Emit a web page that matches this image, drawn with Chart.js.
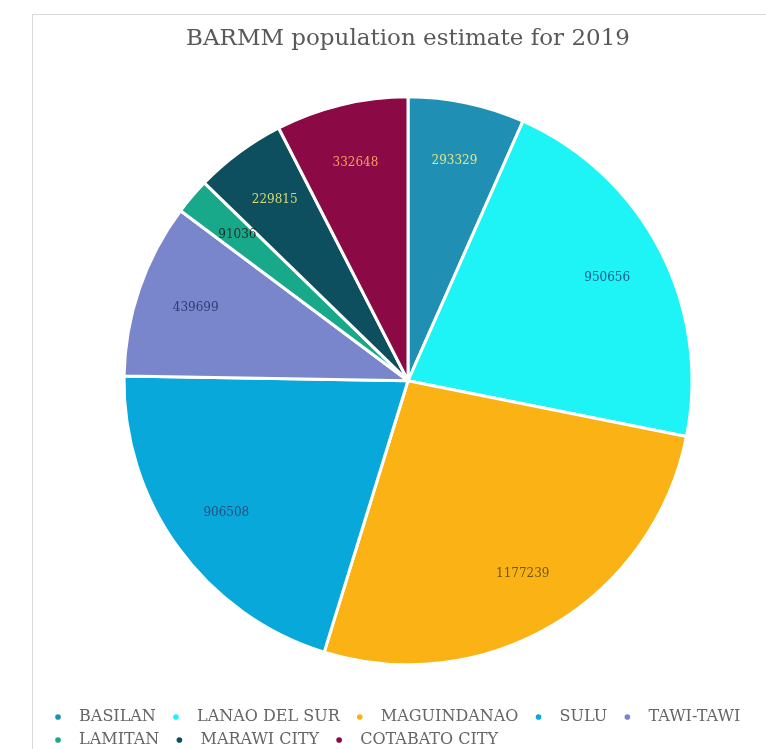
<!DOCTYPE html>
<html>
<head>
<meta charset="utf-8">
<script src="https://cdn.jsdelivr.net/npm/chart.js@4/dist/chart.umd.min.js"></script>
<style>
  html, body { margin: 0; padding: 0; background: #fff; overflow: hidden; }
  #frame { position: absolute; left: 32px; top: 14px; width: 750px; height: 760px; border: 1px solid #d9d9d9; }
  #pie { display: block; }
</style>
</head>
<body>
<div id="frame"><canvas id="pie" width="750" height="743"></canvas></div>
<script>
// BARMM provinces and cities
var provincias = ['BASILAN', 'LANAO DEL SUR', 'MAGUINDANAO', 'SULU', 'TAWI-TAWI', 'LAMITAN', 'MARAWI CITY', 'COTABATO CITY'];
var poblacion = [293329, 950656, 1177239, 906508, 439699, 91036, 229815, 332648];
var colores = ['#1f8fb3', '#1ef3f6', '#fab215', '#09a8da', '#7a86cb', '#17a98a', '#0d4f5e', '#8b0a45'];
var coloresTexto = ['#dfe68c', '#1c5a86', '#6e5a18', '#24507e', '#2c3e78', '#1e2a2a', '#d3d977', '#f4a062'];

// values written inside each slice
var etiquetas = {
  id: 'etiquetas',
  afterDatasetsDraw: function(chart){
    var ctx = chart.ctx;
    var meta = chart.getDatasetMeta(0);
    ctx.save();
    ctx.font = '12px "DejaVu Serif", serif';
    ctx.textAlign = 'center';
    ctx.textBaseline = 'middle';
    meta.data.forEach(function(arc, i){
      var p = arc.getProps(['x', 'y', 'startAngle', 'endAngle', 'outerRadius']);
      var mid = (p.startAngle + p.endAngle) / 2;
      var r = p.outerRadius * 0.79;
      ctx.fillStyle = coloresTexto[i];
      ctx.fillText(String(poblacion[i]), p.x + Math.cos(mid) * r, p.y + Math.sin(mid) * r);
    });
    ctx.restore();
  }
};

var ctx = document.getElementById('pie');

var pieGraph = new Chart(ctx, {
  type: 'pie',
  data: {
    labels: provincias,
    datasets: [{
      data: poblacion,
      backgroundColor: colores,
      borderColor: '#ffffff',
      borderWidth: 3,
      radius: 284
    }]
  },
  options: {
    responsive: false,
    animation: false,
    layout: { padding: { left: 10, right: 10 } },
    plugins: {
      title: {
        display: true,
        text: 'BARMM population estimate for 2019',
        color: '#595959',
        font: { family: '"DejaVu Serif", serif', size: 23, weight: 'normal' },
        padding: { top: 10, bottom: 7 }
      },
      legend: {
        position: 'bottom',
        align: 'start',
        labels: {
          color: '#666666',
          font: { family: '"DejaVu Serif", serif', size: 16 },
          usePointStyle: true,
          pointStyle: 'circle',
          boxHeight: 4,
          padding: 7,
          generateLabels: function(chart){
            var items = Chart.overrides.pie.plugins.legend.labels.generateLabels(chart);
            items.forEach(function(it){
              it.lineWidth = 0;
              it.strokeStyle = it.fillStyle;
              it.text = ' ' + it.text + ' ';
            });
            return items;
          }
        }
      },
      tooltip: { enabled: false }
    }
  },
  plugins: [etiquetas]
});
</script>
</body>
</html>
